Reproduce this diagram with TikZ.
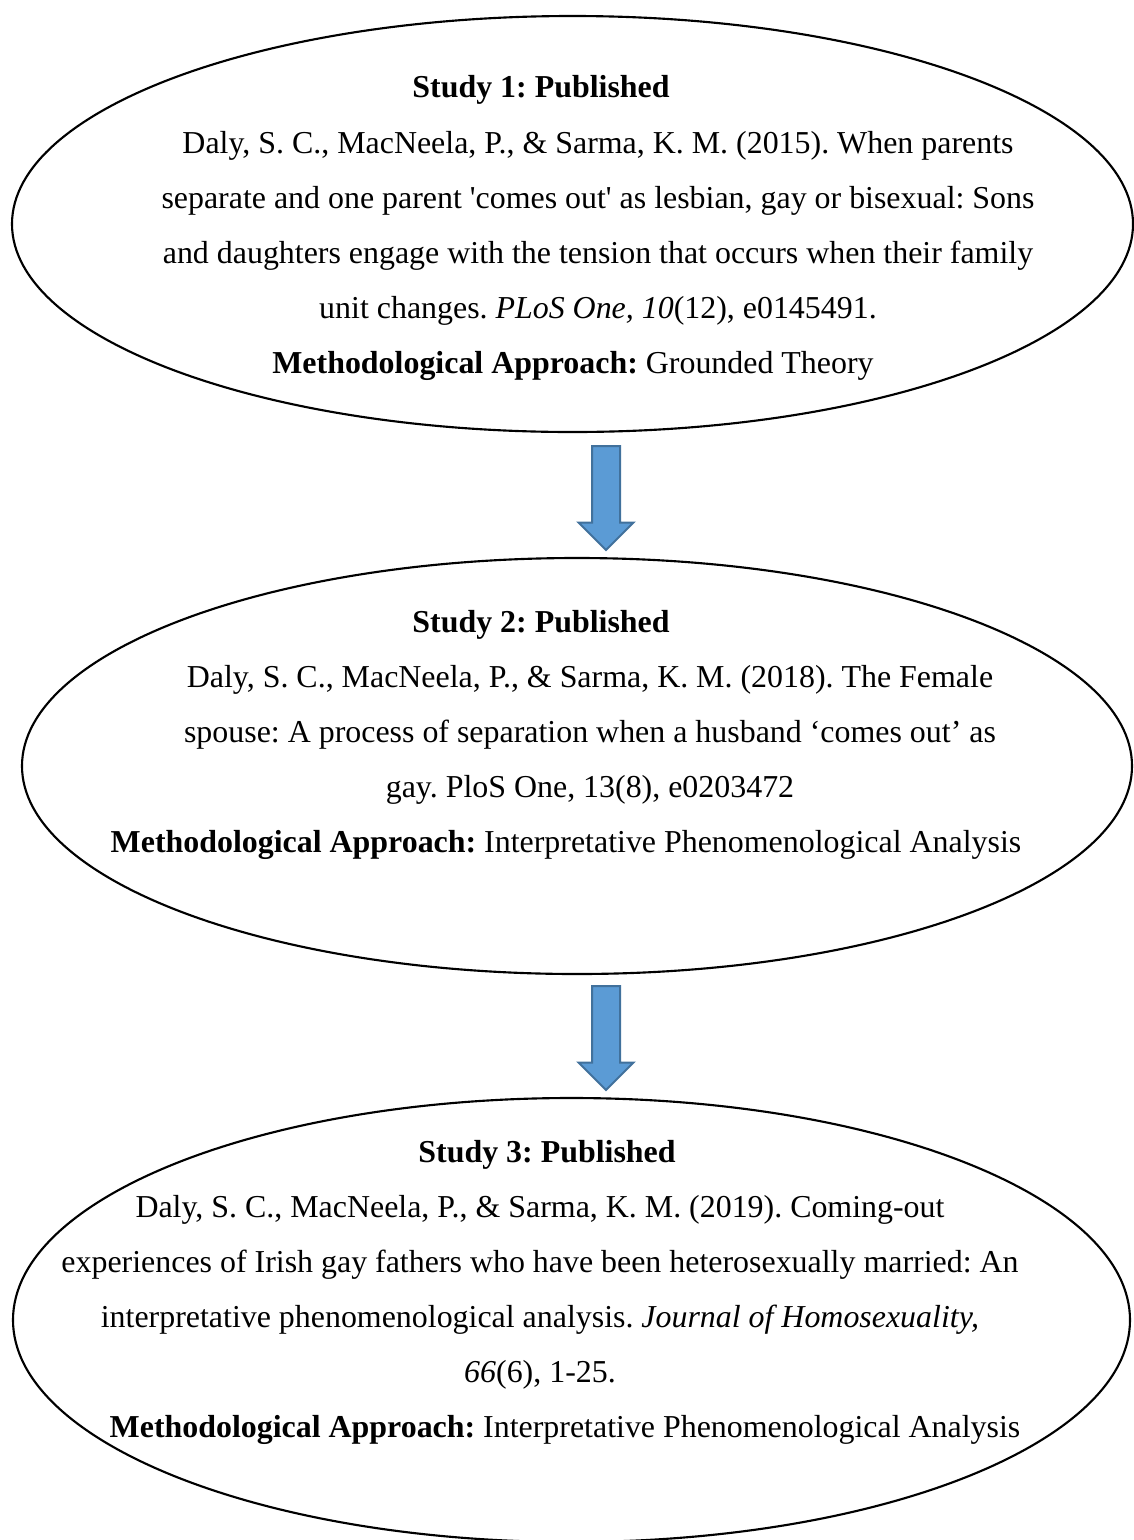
\documentclass[tikz,border=0pt]{standalone}
\usepackage{fontspec}
\setmainfont{Liberation Serif}
\usetikzlibrary{shapes.geometric,shapes.arrows}

\newcommand{\pxu}{0.376pt}
\newcommand{\docfont}{\fontsize{12pt}{20.68pt}\selectfont\frenchspacing}
\definecolor{arrowfill}{HTML}{5B9BD5}
\definecolor{arrowline}{HTML}{41719C}
\tikzset{
  study/.style={ellipse, draw, line width=0.8pt, inner sep=0pt},
  heading/.style={anchor=base, font=\docfont\bfseries},
  body/.style={anchor=base, align=center, font=\docfont},
  flowarrow/.style={single arrow, draw=arrowline, fill=arrowfill, line width=0.75pt,
    rotate=-90, inner xsep=0pt, inner ysep=13*\pxu, minimum height=104*\pxu,
    minimum width=53*\pxu, single arrow head extend=13.5*\pxu,
    single arrow head indent=0pt}
}

\begin{document}
\begin{tikzpicture}[x=\pxu,y=-\pxu]
\useasboundingbox (0,0) rectangle (1134,1540);
\node [study, minimum width=1121*\pxu, minimum height=416*\pxu] (s1) at (572.5,224) {};
\node [study, minimum width=1110*\pxu, minimum height=416*\pxu] (s2) at (577,766) {};
\node [study, minimum width=1117*\pxu, minimum height=444*\pxu] (s3) at (571.5,1320) {};
\node [flowarrow] (a1) at (606,491) {};
\node [flowarrow] (a2) at (606,1031) {};

% anchor=base of a multi-line body is its last line
\node [heading] (t1) at (541,97) {Study 1: Published};
\node [body] (b1) at (598,318) {Daly, S. C., MacNeela, P., \& Sarma, K. M. (2015). When parents\\
  separate and one parent \textquotesingle comes out\textquotesingle{} as lesbian, gay or bisexual: Sons\\
  and daughters engage with the tension that occurs when their family\\
  unit changes. \textit{PLoS One, 10}(12), e0145491.};
\node [body] (m1) at (573,373) {\textbf{Methodological Approach:} Grounded Theory};

\node [heading] (t2) at (541,632) {Study 2: Published};
\node [body] (b2) at (590,797) {Daly, S. C., MacNeela, P., \& Sarma, K. M. (2018). The Female\\
  spouse: A process of separation when a husband `comes out' as\\
  gay. PloS One, 13(8), e0203472};
\node [body] (m2) at (566,852) {\textbf{Methodological Approach:} Interpretative Phenomenological Analysis};

\node [heading] (t3) at (547,1162) {Study 3: Published};
\node [body] (b3) at (540,1382) {Daly, S. C., MacNeela, P., \& Sarma, K. M. (2019). Coming-out\\
  experiences of Irish gay fathers who have been heterosexually married: An\\
  interpretative phenomenological analysis. \textit{Journal of Homosexuality,}\\
  \textit{66}(6), 1-25.};
\node [body] (m3) at (565,1437) {\textbf{Methodological Approach:} Interpretative Phenomenological Analysis};
\end{tikzpicture}
\end{document}
